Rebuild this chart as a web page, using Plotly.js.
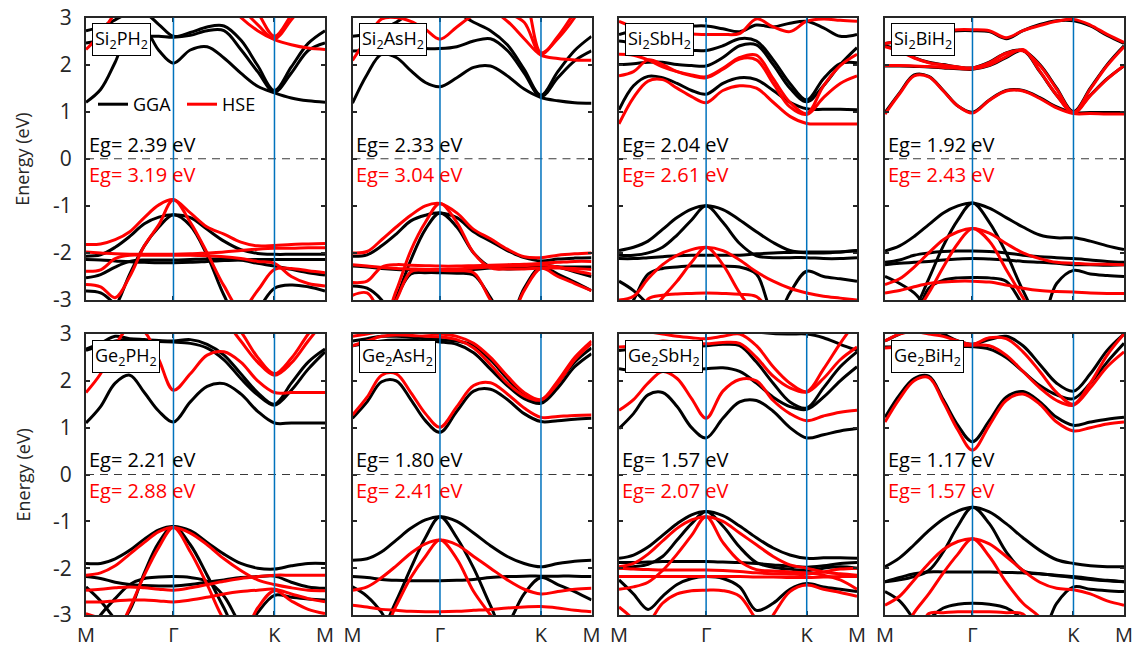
<!DOCTYPE html>
<html>
<head>
<meta charset="utf-8">
<script src="https://cdn.plot.ly/plotly-3.0.1.min.js"></script>
<style>
html,body{margin:0;padding:0;background:#fff;}
#chart{width:1133px;height:648px;}
</style>
</head>
<body>
<div id="chart"></div>
<script>
// k-path M–Γ–K–M (path length in units of 2π/a), 16 sample points
const KGRID = [0, 0.0962, 0.1925, 0.2887, 0.3849, 0.4811, 0.5774, 0.6885, 0.7996, 0.9107, 1.0218, 1.1329, 1.2440, 1.3551, 1.4663, 1.5774];
const KNODES = [0, 0.5774, 1.2440, 1.5774];
const KLABELS = ['M', 'Γ', 'K', 'M'];
const YTICKS = [-3, -2, -1, 0, 1, 2, 3];
const YTICKTEXT = ['-3', '-2', '-1', '0', '1', '2', '3'];

const MATERIALS = ['Si<sub>2</sub>PH<sub>2</sub>', 'Si<sub>2</sub>AsH<sub>2</sub>', 'Si<sub>2</sub>SbH<sub>2</sub>', 'Si<sub>2</sub>BiH<sub>2</sub>',
                   'Ge<sub>2</sub>PH<sub>2</sub>', 'Ge<sub>2</sub>AsH<sub>2</sub>', 'Ge<sub>2</sub>SbH<sub>2</sub>', 'Ge<sub>2</sub>BiH<sub>2</sub>'];
const EG_GGA = [2.39, 2.33, 2.04, 1.92, 2.21, 1.80, 1.57, 1.17];
const EG_HSE = [3.19, 3.04, 2.61, 2.43, 2.88, 2.41, 2.07, 1.57];

// ---- band energies (eV) on KGRID ----
const si2ph2_gga = [
  [1.20, 1.47, 2.05, 2.72, 2.75, 2.30, 2.03, 2.31, 2.38, 2.14, 1.82, 1.54, 1.40, 1.29, 1.23, 1.20],
  [2.46, 2.50, 2.55, 2.58, 2.60, 2.60, 2.58, 2.62, 2.72, 2.72, 2.32, 1.85, 1.42, 1.82, 2.30, 2.46],
  [2.72, 2.80, 2.95, 3.10, 3.10, 2.85, 2.60, 2.68, 2.80, 2.82, 2.52, 1.98, 1.45, 1.95, 2.45, 2.72],
  [-2.07, -2.04, -1.88, -1.65, -1.38, -1.24, -1.19, -1.25, -1.50, -1.75, -1.93, -2.01, -2.03, -2.03, -2.03, -2.03],
  [-3.5, -3.5, -3.15, -2.45, -1.85, -1.45, -1.19, -1.42, -2.05, -2.90, -3.5, -3.5, -3.5, -3.5, -3.5, -3.5],
  [-2.14, -2.15, -2.17, -2.19, -2.20, -2.21, -2.21, -2.20, -2.18, -2.16, -2.15, -2.14, -2.14, -2.14, -2.14, -2.14],
  [-2.53, -2.46, -2.30, -2.18, -2.15, -2.15, -2.15, -2.14, -2.13, -2.13, -2.15, -2.22, -2.28, -2.35, -2.42, -2.47],
  [-2.81, -2.85, -3.10, -3.5, -3.5, -3.5, -3.5, -3.5, -3.5, -3.5, -3.5, -3.20, -2.75, -2.68, -2.72, -2.81]
];
const si2ph2_hse = [
  [2.32, 2.65, 3.10, 3.50, 3.50, 3.50, 3.50, 3.50, 3.50, 3.40, 3.00, 2.72, 2.53, 2.42, 2.35, 2.32],
  [3.6, 3.6, 3.6, 3.6, 3.6, 3.6, 3.6, 3.6, 3.6, 3.50, 3.20, 2.85, 2.55, 2.95, 3.40, 3.70],
  [3.7, 3.7, 3.7, 3.7, 3.7, 3.7, 3.7, 3.7, 3.7, 3.60, 3.50, 3.10, 2.60, 3.05, 3.50, 3.80],
  [-1.82, -1.81, -1.72, -1.55, -1.25, -0.98, -0.87, -1.15, -1.45, -1.60, -1.77, -1.85, -1.84, -1.82, -1.81, -1.80],
  [-2.67, -2.72, -2.95, -2.50, -1.85, -1.40, -0.87, -1.35, -2.00, -2.70, -3.20, -2.80, -2.35, -2.33, -2.38, -2.42],
  [-1.98, -2.00, -2.02, -2.03, -2.03, -2.03, -2.03, -2.02, -2.00, -1.98, -1.95, -1.92, -1.90, -1.90, -1.89, -1.89],
  [-2.39, -2.36, -2.12, -2.05, -2.05, -2.05, -2.05, -2.05, -2.06, -2.08, -2.12, -2.18, -2.22, -2.50, -2.65, -2.70]
];

const si2ash2_gga = [
  [1.18, 1.79, 2.22, 2.15, 1.87, 1.62, 1.53, 1.72, 1.94, 1.97, 1.76, 1.48, 1.30, 1.23, 1.19, 1.18],
  [2.29, 2.30, 2.32, 2.33, 2.34, 2.34, 2.34, 2.38, 2.50, 2.55, 2.30, 1.82, 1.32, 1.72, 2.08, 2.29],
  [2.60, 2.65, 2.75, 2.90, 3.10, 3.20, 3.20, 3.10, 2.90, 2.72, 2.42, 1.90, 1.35, 1.85, 2.30, 2.60],
  [-2.07, -2.04, -1.85, -1.60, -1.32, -1.20, -1.15, -1.25, -1.55, -1.75, -1.95, -2.10, -2.17, -2.13, -2.11, -2.10],
  [-3.5, -3.5, -3.5, -2.95, -2.15, -1.50, -1.15, -1.45, -2.00, -2.30, -2.34, -2.33, -2.30, -2.30, -2.30, -2.30],
  [-2.28, -2.30, -2.33, -2.35, -2.36, -2.37, -2.38, -2.37, -2.35, -2.32, -2.30, -2.28, -2.25, -2.30, -2.40, -2.50],
  [-3.5, -3.5, -3.5, -2.95, -2.45, -2.42, -2.42, -2.43, -2.47, -2.95, -3.5, -3.5, -3.5, -3.5, -3.5, -3.5],
  [-2.70, -2.75, -3.00, -3.5, -3.5, -3.5, -3.5, -3.5, -3.5, -3.5, -3.5, -2.75, -2.30, -2.45, -2.62, -2.80]
];
const si2ash2_hse = [
  [2.09, 2.55, 2.97, 3.00, 2.92, 2.75, 2.54, 2.80, 3.05, 3.15, 2.92, 2.55, 2.20, 2.13, 2.10, 2.09],
  [3.6, 3.6, 3.6, 3.6, 3.6, 3.6, 3.6, 3.6, 3.50, 3.30, 3.10, 2.90, 2.22, 2.60, 3.10, 3.50],
  [3.7, 3.7, 3.7, 3.7, 3.7, 3.7, 3.7, 3.7, 3.7, 3.60, 3.50, 3.40, 2.25, 2.55, 3.00, 3.60],
  [-2.00, -1.97, -1.72, -1.45, -1.20, -1.00, -0.95, -1.15, -1.50, -1.70, -1.92, -2.08, -2.10, -2.05, -2.02, -2.00],
  [-3.5, -3.5, -3.5, -2.80, -1.95, -1.35, -0.95, -1.35, -2.00, -2.32, -2.34, -2.34, -2.32, -2.32, -2.33, -2.35],
  [-2.25, -2.28, -2.31, -2.33, -2.34, -2.35, -2.35, -2.34, -2.32, -2.30, -2.28, -2.27, -2.25, -2.30, -2.38, -2.45],
  [-2.63, -2.60, -2.30, -2.25, -2.26, -2.27, -2.28, -2.28, -2.27, -2.26, -2.25, -2.24, -2.22, -2.20, -2.18, -2.18],
  [-3.5, -3.5, -3.5, -3.00, -2.40, -2.37, -2.37, -2.38, -2.42, -3.00, -3.5, -3.5, -3.5, -3.5, -3.5, -3.5],
  [-2.90, -2.85, -3.30, -3.5, -3.5, -3.5, -3.5, -3.5, -3.5, -3.5, -3.5, -2.80, -2.33, -2.50, -2.65, -2.80]
];

const si2sbh2_gga = [
  [1.04, 1.55, 1.75, 1.72, 1.60, 1.45, 1.37, 1.60, 1.72, 1.68, 1.45, 1.20, 1.06, 1.05, 1.05, 1.04],
  [2.00, 2.02, 2.05, 2.05, 2.00, 1.98, 1.97, 2.15, 2.40, 2.42, 2.00, 1.50, 1.21, 1.55, 2.00, 2.36],
  [2.50, 2.45, 2.35, 2.30, 2.30, 2.30, 2.30, 2.40, 2.55, 2.50, 2.10, 1.60, 1.25, 1.70, 2.02, 2.04],
  [2.64, 2.72, 2.78, 2.80, 2.82, 2.82, 2.82, 2.76, 2.70, 2.84, 2.80, 2.88, 2.92, 2.78, 2.60, 2.64],
  [-1.95, -1.88, -1.75, -1.50, -1.25, -1.07, -1.00, -1.08, -1.30, -1.55, -1.78, -1.95, -2.00, -2.00, -1.98, -1.95],
  [-2.05, -2.05, -2.00, -1.88, -1.62, -1.30, -1.00, -1.35, -1.80, -2.06, -2.10, -2.10, -2.10, -2.12, -2.12, -2.10],
  [-2.12, -2.12, -2.10, -2.08, -2.06, -2.05, -2.05, -2.05, -2.05, -2.02, -2.00, -1.99, -1.98, -1.98, -1.98, -1.95],
  [-3.5, -3.00, -2.45, -2.33, -2.30, -2.28, -2.28, -2.28, -2.30, -2.45, -3.30, -3.5, -3.5, -3.5, -3.5, -3.5],
  [-2.60, -2.80, -3.10, -3.5, -3.5, -3.5, -3.5, -3.5, -3.5, -3.5, -3.50, -2.85, -2.39, -2.50, -2.55, -2.60]
];
const si2sbh2_hse = [
  [0.74, 1.30, 1.65, 1.68, 1.50, 1.32, 1.19, 1.45, 1.55, 1.50, 1.20, 0.90, 0.75, 0.74, 0.74, 0.74],
  [1.76, 1.85, 2.10, 2.00, 1.85, 1.76, 1.72, 1.90, 2.12, 2.10, 1.60, 1.10, 0.94, 1.30, 1.60, 1.76],
  [2.22, 2.20, 2.10, 1.95, 1.85, 1.78, 1.74, 1.92, 2.15, 2.20, 1.70, 1.20, 0.96, 1.55, 1.98, 2.22],
  [2.92, 2.80, 2.72, 2.68, 2.66, 2.65, 2.64, 2.64, 2.66, 2.97, 2.80, 2.70, 2.92, 2.97, 2.94, 2.92],
  [-3.00, -2.92, -2.55, -2.25, -2.05, -1.93, -1.88, -1.95, -2.15, -2.40, -2.60, -2.75, -2.85, -2.92, -2.96, -3.00],
  [-3.5, -3.5, -3.30, -2.95, -2.60, -2.20, -1.88, -2.25, -2.85, -3.30, -3.5, -3.5, -3.5, -3.5, -3.5, -3.5],
  [-3.5, -3.5, -2.98, -2.90, -2.87, -2.86, -2.85, -2.86, -2.88, -2.93, -3.30, -3.5, -3.5, -3.5, -3.5, -3.5]
];

const si2bih2_gga = [
  [0.98, 1.40, 1.78, 1.75, 1.45, 1.12, 0.99, 1.25, 1.45, 1.45, 1.30, 1.10, 0.98, 0.98, 0.98, 0.98],
  [1.97, 1.97, 1.96, 1.95, 1.93, 1.91, 1.90, 1.98, 2.15, 2.30, 1.85, 1.35, 0.99, 1.35, 1.70, 1.97],
  [2.40, 2.30, 2.15, 2.05, 2.00, 1.95, 1.93, 2.05, 2.25, 2.30, 2.00, 1.50, 1.00, 1.50, 2.00, 2.40],
  [2.45, 2.50, 2.58, 2.65, 2.70, 2.72, 2.72, 2.70, 2.55, 2.72, 2.85, 2.93, 2.93, 2.82, 2.62, 2.45],
  [-1.96, -1.85, -1.65, -1.40, -1.15, -1.00, -0.94, -1.05, -1.25, -1.45, -1.62, -1.68, -1.68, -1.75, -1.85, -1.93],
  [-3.5, -3.5, -3.20, -2.55, -1.85, -1.30, -0.94, -1.35, -2.00, -2.80, -3.40, -3.5, -3.5, -3.5, -3.5, -3.5],
  [-2.20, -2.15, -2.05, -2.00, -1.97, -1.96, -1.96, -1.97, -2.00, -2.05, -2.08, -2.10, -2.12, -2.15, -2.18, -2.20],
  [-2.25, -2.22, -2.20, -2.18, -2.15, -2.13, -2.12, -2.13, -2.15, -2.18, -2.20, -2.22, -2.25, -2.25, -2.26, -2.25],
  [-3.5, -3.5, -3.40, -2.75, -2.58, -2.53, -2.52, -2.53, -2.60, -3.10, -3.5, -3.5, -3.5, -3.5, -3.5, -3.5],
  [-2.50, -2.65, -2.85, -3.20, -3.5, -3.5, -3.5, -3.5, -3.5, -3.5, -3.50, -2.65, -2.37, -2.45, -2.48, -2.50]
];
const si2bih2_hse = [
  [0.95, 1.38, 1.76, 1.74, 1.44, 1.12, 0.97, 1.24, 1.44, 1.44, 1.28, 1.08, 0.96, 0.96, 0.95, 0.95],
  [1.98, 1.98, 1.97, 1.96, 1.94, 1.92, 1.91, 1.99, 2.17, 2.32, 1.86, 1.35, 0.97, 1.34, 1.69, 1.98],
  [2.38, 2.28, 2.14, 2.04, 1.99, 1.95, 1.93, 2.04, 2.24, 2.29, 1.98, 1.48, 0.98, 1.48, 1.98, 2.38],
  [2.45, 2.50, 2.60, 2.66, 2.71, 2.74, 2.74, 2.72, 2.57, 2.72, 2.83, 2.92, 2.96, 2.84, 2.64, 2.47],
  [-2.67, -2.55, -2.30, -2.00, -1.72, -1.55, -1.48, -1.58, -1.80, -2.00, -2.12, -2.20, -2.22, -2.24, -2.24, -2.25],
  [-3.5, -3.5, -3.30, -2.85, -2.30, -1.80, -1.48, -1.75, -2.35, -2.95, -3.5, -3.5, -3.5, -3.5, -3.5, -3.5],
  [-2.85, -2.80, -2.72, -2.65, -2.62, -2.60, -2.60, -2.62, -2.68, -2.75, -2.80, -2.82, -2.83, -2.85, -2.86, -2.86]
];

const ge2ph2_gga = [
  [1.10, 1.45, 1.95, 2.12, 1.75, 1.35, 1.12, 1.55, 1.88, 1.94, 1.72, 1.35, 1.10, 1.10, 1.10, 1.10],
  [2.65, 2.75, 2.85, 2.88, 2.86, 2.84, 2.83, 2.80, 2.70, 2.45, 2.05, 1.70, 1.48, 1.80, 2.25, 2.62],
  [2.68, 2.80, 2.95, 2.90, 2.88, 2.86, 2.85, 2.88, 2.78, 2.55, 2.15, 1.75, 1.50, 1.95, 2.40, 2.68],
  [-1.90, -1.90, -1.80, -1.62, -1.38, -1.18, -1.11, -1.20, -1.45, -1.70, -1.90, -2.00, -2.02, -1.95, -1.90, -1.90],
  [-3.5, -3.5, -3.30, -2.90, -2.10, -1.45, -1.11, -1.50, -2.15, -2.85, -3.5, -3.5, -3.5, -3.5, -3.5, -3.5],
  [-2.18, -2.22, -2.30, -2.35, -2.37, -2.38, -2.38, -2.35, -2.30, -2.25, -2.20, -2.18, -2.17, -2.30, -2.40, -2.43],
  [-3.5, -3.00, -2.65, -2.35, -2.22, -2.19, -2.18, -2.20, -2.28, -2.60, -3.20, -3.5, -3.5, -3.5, -3.5, -3.5],
  [-2.40, -2.70, -3.10, -3.5, -3.5, -3.5, -3.5, -3.5, -3.5, -3.5, -3.5, -2.95, -2.58, -2.62, -2.66, -2.68]
];
const ge2ph2_hse = [
  [1.75, 2.15, 2.75, 3.15, 3.05, 2.45, 1.80, 2.15, 2.55, 2.62, 2.40, 2.00, 1.75, 1.75, 1.75, 1.75],
  [3.6, 3.6, 3.6, 3.6, 3.6, 3.6, 3.6, 3.6, 3.6, 3.30, 2.85, 2.40, 2.12, 2.38, 2.85, 3.30],
  [3.7, 3.7, 3.7, 3.7, 3.7, 3.7, 3.7, 3.7, 3.7, 3.45, 3.05, 2.50, 2.15, 2.48, 3.00, 3.45],
  [-2.15, -2.10, -1.95, -1.70, -1.45, -1.22, -1.13, -1.25, -1.50, -1.80, -2.05, -2.25, -2.35, -2.42, -2.47, -2.48],
  [-3.5, -3.5, -3.40, -2.85, -2.15, -1.55, -1.13, -1.65, -2.35, -3.10, -3.5, -3.5, -3.5, -3.5, -3.5, -3.5],
  [-2.47, -2.45, -2.42, -2.40, -2.42, -2.45, -2.47, -2.42, -2.35, -2.28, -2.22, -2.18, -2.15, -2.15, -2.15, -2.15],
  [-2.72, -2.72, -2.70, -2.68, -2.68, -2.70, -2.72, -2.68, -2.62, -2.55, -2.50, -2.47, -2.45, -2.55, -2.65, -2.72],
  [-2.97, -3.10, -3.5, -3.5, -3.5, -3.5, -3.5, -3.5, -3.5, -3.5, -3.5, -2.85, -2.48, -2.70, -2.88, -2.97]
];

const ge2ash2_gga = [
  [1.20, 1.55, 1.98, 2.00, 1.60, 1.15, 0.90, 1.35, 1.78, 1.82, 1.60, 1.30, 1.13, 1.15, 1.18, 1.20],
  [2.75, 2.80, 2.85, 2.87, 2.87, 2.85, 2.83, 2.78, 2.60, 2.25, 1.90, 1.62, 1.52, 1.85, 2.30, 2.58],
  [2.85, 2.90, 2.95, 2.95, 2.93, 2.90, 2.88, 2.85, 2.75, 2.45, 2.05, 1.70, 1.55, 1.95, 2.40, 2.70],
  [-1.83, -1.80, -1.65, -1.40, -1.15, -0.97, -0.90, -1.00, -1.25, -1.52, -1.75, -1.90, -1.97, -1.90, -1.85, -1.83],
  [-3.5, -3.5, -3.30, -2.70, -2.00, -1.35, -0.90, -1.35, -2.00, -2.80, -3.5, -3.5, -3.5, -3.5, -3.5, -3.5],
  [-2.18, -2.20, -2.24, -2.26, -2.27, -2.27, -2.27, -2.26, -2.24, -2.20, -2.18, -2.17, -2.17, -2.17, -2.17, -2.18],
  [-2.40, -2.60, -2.95, -3.5, -3.5, -3.5, -3.5, -3.5, -3.5, -3.5, -3.20, -2.55, -2.20, -2.35, -2.50, -2.68]
];
const ge2ash2_hse = [
  [1.27, 1.65, 2.12, 2.15, 1.75, 1.30, 1.01, 1.45, 1.90, 1.96, 1.72, 1.42, 1.22, 1.24, 1.26, 1.27],
  [2.75, 2.85, 2.95, 2.98, 2.97, 2.95, 2.94, 2.88, 2.70, 2.35, 1.95, 1.68, 1.59, 1.95, 2.45, 2.80],
  [2.95, 3.00, 3.05, 3.05, 3.05, 3.02, 3.00, 2.95, 2.80, 2.50, 2.10, 1.75, 1.60, 2.00, 2.50, 2.85],
  [-2.47, -2.40, -2.20, -1.95, -1.68, -1.48, -1.40, -1.50, -1.75, -2.00, -2.25, -2.45, -2.55, -2.50, -2.45, -2.43],
  [-3.5, -3.5, -3.40, -2.80, -2.20, -1.75, -1.40, -1.80, -2.50, -3.00, -3.5, -3.5, -3.5, -3.5, -3.5, -3.5],
  [-2.79, -2.83, -2.88, -2.90, -2.92, -2.93, -2.93, -2.92, -2.90, -2.88, -2.85, -2.83, -2.82, -2.85, -2.90, -2.93]
];

const ge2sbh2_gga = [
  [0.98, 1.30, 1.70, 1.75, 1.45, 1.00, 0.78, 1.20, 1.55, 1.58, 1.35, 1.00, 0.78, 0.85, 0.93, 0.98],
  [2.26, 2.22, 2.20, 2.20, 2.22, 2.24, 2.26, 2.28, 2.20, 1.95, 1.65, 1.45, 1.39, 1.65, 2.00, 2.30],
  [2.65, 2.68, 2.70, 2.72, 2.73, 2.74, 2.75, 2.78, 2.75, 2.40, 1.95, 1.55, 1.42, 1.85, 2.30, 2.62],
  [3.20, 3.20, 3.20, 3.20, 3.20, 3.20, 3.20, 3.20, 3.15, 3.05, 3.01, 3.00, 3.00, 2.92, 2.78, 2.65],
  [-1.79, -1.72, -1.55, -1.30, -1.05, -0.86, -0.79, -0.88, -1.10, -1.35, -1.57, -1.72, -1.79, -1.78, -1.78, -1.79],
  [-2.00, -1.97, -1.92, -1.75, -1.40, -1.05, -0.79, -1.10, -1.55, -1.88, -1.98, -2.02, -2.05, -2.00, -1.97, -2.00],
  [-1.88, -1.88, -1.87, -1.86, -1.86, -1.86, -1.86, -1.87, -1.88, -1.90, -1.93, -1.96, -1.98, -1.95, -1.90, -1.88],
  [-2.25, -2.55, -2.88, -2.60, -2.35, -2.22, -2.18, -2.22, -2.40, -2.90, -2.75, -2.45, -2.33, -2.40, -2.45, -2.50]
];
const ge2sbh2_hse = [
  [1.37, 1.60, 1.95, 2.20, 2.05, 1.62, 1.20, 1.78, 2.03, 2.00, 1.58, 1.30, 1.15, 1.25, 1.33, 1.37],
  [2.72, 2.75, 2.80, 2.85, 2.82, 2.80, 2.79, 2.82, 2.80, 2.50, 2.10, 1.85, 1.76, 2.05, 2.45, 2.72],
  [3.10, 3.10, 3.05, 3.00, 2.95, 2.92, 2.90, 2.95, 3.00, 2.75, 2.30, 1.95, 1.77, 2.25, 2.80, 3.30],
  [-1.97, -1.90, -1.70, -1.42, -1.15, -0.97, -0.90, -1.00, -1.25, -1.50, -1.75, -1.93, -2.00, -2.08, -2.12, -2.15],
  [-2.45, -2.40, -2.30, -2.05, -1.70, -1.30, -0.90, -1.45, -1.85, -2.03, -2.06, -2.08, -2.10, -2.15, -2.25, -2.45],
  [-2.00, -2.02, -2.03, -2.04, -2.04, -2.04, -2.04, -2.05, -2.07, -2.10, -2.12, -2.13, -2.13, -2.08, -2.02, -2.00],
  [-2.18, -2.18, -2.18, -2.18, -2.18, -2.18, -2.18, -2.18, -2.18, -2.19, -2.19, -2.20, -2.20, -2.19, -2.18, -2.18],
  [-3.5, -3.5, -3.20, -2.75, -2.55, -2.48, -2.47, -2.48, -2.60, -3.10, -3.5, -3.5, -3.5, -3.5, -3.5, -3.5],
  [-2.83, -3.10, -3.5, -3.5, -3.5, -3.5, -3.5, -3.5, -3.5, -3.5, -3.00, -2.50, -2.36, -2.45, -2.52, -2.60]
];

const ge2bih2_gga = [
  [1.22, 1.70, 2.05, 2.10, 1.60, 1.05, 0.70, 1.15, 1.65, 1.77, 1.55, 1.22, 1.05, 1.12, 1.18, 1.22],
  [2.72, 2.73, 2.74, 2.74, 2.74, 2.73, 2.73, 2.68, 2.50, 2.20, 1.90, 1.70, 1.62, 1.95, 2.40, 2.80],
  [2.85, 3.00, 3.10, 3.10, 3.00, 2.85, 2.78, 2.88, 2.95, 2.75, 2.35, 1.95, 1.78, 2.15, 2.65, 3.00],
  [-1.97, -1.78, -1.50, -1.20, -0.95, -0.78, -0.70, -0.80, -1.05, -1.35, -1.62, -1.82, -1.90, -1.95, -1.97, -1.97],
  [-2.29, -2.25, -2.18, -2.05, -1.65, -1.10, -0.70, -1.05, -1.65, -2.05, -2.12, -2.15, -2.18, -2.22, -2.26, -2.29],
  [-2.29, -2.20, -2.12, -2.08, -2.08, -2.08, -2.08, -2.08, -2.09, -2.10, -2.12, -2.16, -2.20, -2.24, -2.27, -2.29],
  [-2.50, -2.70, -3.10, -3.5, -3.5, -3.5, -3.5, -3.5, -3.5, -3.5, -3.50, -2.75, -2.40, -2.45, -2.48, -2.50],
  [-3.5, -3.5, -3.5, -3.10, -2.85, -2.77, -2.75, -2.77, -2.85, -3.10, -3.5, -3.5, -3.5, -3.5, -3.5, -3.5]
];
const ge2bih2_hse = [
  [1.12, 1.62, 2.00, 2.07, 1.55, 0.95, 0.52, 1.05, 1.58, 1.72, 1.50, 1.12, 0.93, 1.00, 1.08, 1.12],
  [2.70, 2.72, 2.74, 2.75, 2.75, 2.76, 2.76, 2.75, 2.55, 2.20, 1.85, 1.58, 1.48, 1.85, 2.30, 2.62],
  [2.85, 3.00, 3.05, 3.00, 2.95, 2.85, 2.78, 2.92, 2.90, 2.62, 2.20, 1.75, 1.50, 1.95, 2.55, 3.00],
  [-2.79, -2.60, -2.25, -1.90, -1.60, -1.43, -1.37, -1.48, -1.75, -2.05, -2.30, -2.43, -2.46, -2.55, -2.70, -2.79],
  [-3.5, -3.5, -2.95, -2.55, -2.10, -1.70, -1.37, -1.75, -2.30, -2.75, -3.05, -3.5, -3.5, -3.5, -3.5, -3.5],
  [-3.5, -3.5, -3.5, -2.97, -2.95, -2.93, -2.93, -2.93, -2.95, -2.98, -3.5, -3.5, -3.5, -3.5, -3.5, -3.5]
];

const PANELS = [
  [si2ph2_gga, si2ph2_hse], [si2ash2_gga, si2ash2_hse], [si2sbh2_gga, si2sbh2_hse], [si2bih2_gga, si2bih2_hse],
  [ge2ph2_gga, ge2ph2_hse], [ge2ash2_gga, ge2ash2_hse], [ge2sbh2_gga, ge2sbh2_hse], [ge2bih2_gga, ge2bih2_hse]
];

// ---- layout geometry (pixels) ----
const W = 1133, H = 648;
const COLS = [[86, 325], [352.5, 591.5], [619, 857], [885, 1124]];
const ROWS = [[17.5, 300], [334, 615]];
const FONT = 'Open Sans, Noto Sans, sans-serif';
const INK = '#262626';
const BLUE = '#0072BD';

const traces = [];
const layout = {
  width: W, height: H,
  margin: {l: 0, r: 0, t: 0, b: 0},
  paper_bgcolor: '#fff', plot_bgcolor: '#fff',
  font: {family: FONT, color: INK},
  showlegend: true,
  legend: {
    orientation: 'h', x: 93 / W, y: 1 - 86 / H, xanchor: 'left', yanchor: 'top',
    bgcolor: 'rgba(0,0,0,0)', font: {size: 18, color: '#000', family: FONT},
    entrywidth: 44, entrywidthmode: 'pixels', itemwidth: 30, tracegroupgap: 0
  },
  shapes: [], annotations: []
};

PANELS.forEach((pair, i) => {
  const row = Math.floor(i / 4), col = i % 4;
  const n = i + 1;
  const xa = 'x' + (n === 1 ? '' : n), ya = 'y' + (n === 1 ? '' : n);
  const [cx0, cx1] = COLS[col], [ry0, ry1] = ROWS[row];

  layout['xaxis' + (n === 1 ? '' : n)] = {
    domain: [cx0 / W, cx1 / W], anchor: ya, range: [KNODES[0], KNODES[3]],
    showgrid: false, zeroline: false, showline: true, mirror: 'ticks',
    linecolor: INK, linewidth: 2, ticks: 'inside', ticklen: 4, tickwidth: 2, tickcolor: INK,
    tickmode: 'array', tickvals: KNODES, ticktext: KLABELS,
    showticklabels: row === 1, tickfont: {size: 20, color: INK, family: FONT}, ticklabelstandoff: 1,
    ticklabeloverflow: 'allow', fixedrange: true
  };
  layout['yaxis' + (n === 1 ? '' : n)] = {
    domain: [1 - ry1 / H, 1 - ry0 / H], anchor: xa, range: [-3, 3],
    showgrid: false, zeroline: false, showline: true, mirror: 'ticks',
    linecolor: INK, linewidth: 2, ticks: 'inside', ticklen: 4, tickwidth: 2, tickcolor: INK,
    tickmode: 'array', tickvals: YTICKS, ticktext: YTICKTEXT,
    showticklabels: col === 0, tickfont: {size: 21, color: INK, family: FONT}, ticklabelstandoff: 8,
    fixedrange: true
  };

  // bands: GGA in black, HSE in red on top
  const styles = [{name: 'GGA', color: '#000000'}, {name: 'HSE', color: '#ff0000'}];
  pair.forEach((bands, m) => {
    bands.forEach((e, b) => {
      traces.push({
        type: 'scatter', mode: 'lines', x: KGRID, y: e, xaxis: xa, yaxis: ya,
        line: {color: styles[m].color, width: 3, shape: 'spline', smoothing: 1},
        name: styles[m].name, legendgroup: styles[m].name,
        showlegend: i === 0 && b === 0, hoverinfo: 'skip'
      });
    });
  });

  // Fermi level and high-symmetry lines
  layout.shapes.push({type: 'line', xref: xa, yref: ya, x0: KNODES[0], x1: KNODES[3], y0: 0, y1: 0,
    line: {color: '#3a3a3a', width: 1, dash: '8px,6px'}, layer: 'above'});
  [KNODES[1], KNODES[2]].forEach(k => {
    layout.shapes.push({type: 'line', xref: xa, yref: ya, x0: k, x1: k, y0: -3, y1: 3,
      line: {color: BLUE, width: 1.5}, layer: 'above'});
  });

  const pw = cx1 - cx0, ph = ry1 - ry0;
  // material label
  layout.annotations.push({
    xref: xa + ' domain', yref: ya + ' domain', x: 6 / pw, y: 1 - 5.5 / ph,
    xanchor: 'left', yanchor: 'top', showarrow: false, text: MATERIALS[i],
    font: {size: 18, color: '#000', family: FONT}, bgcolor: '#fff',
    bordercolor: '#000', borderwidth: 1, borderpad: 2
  });
  // band gaps
  layout.annotations.push({
    xref: xa + ' domain', yref: ya, x: 1 / pw, y: 0.31, xanchor: 'left', yanchor: 'middle',
    showarrow: false, text: 'Eg= ' + EG_GGA[i].toFixed(2) + ' eV', font: {size: 20, color: '#000', family: FONT}
  });
  layout.annotations.push({
    xref: xa + ' domain', yref: ya, x: 1 / pw, y: -0.34, xanchor: 'left', yanchor: 'middle',
    showarrow: false, text: 'Eg= ' + EG_HSE[i].toFixed(2) + ' eV', font: {size: 20, color: '#ff0000', family: FONT}
  });
});

// y-axis titles
ROWS.forEach(([r0, r1]) => {
  layout.annotations.push({
    xref: 'paper', yref: 'paper', x: 22 / W, y: 1 - (r0 + r1) / 2 / H, xanchor: 'center', yanchor: 'middle',
    textangle: -90, showarrow: false, text: 'Energy (eV)', font: {size: 18, color: INK, family: FONT}
  });
});

Plotly.newPlot('chart', traces, layout, {displayModeBar: false, staticPlot: true});
</script>
</body>
</html>
